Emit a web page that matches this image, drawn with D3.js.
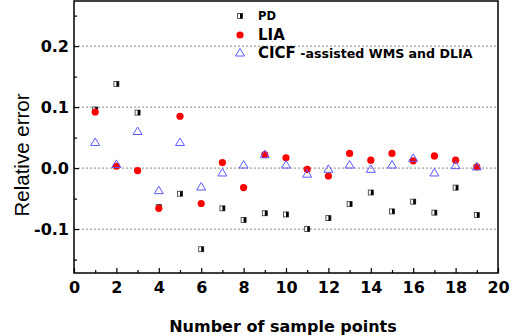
<!DOCTYPE html>
<html>
<head>
<meta charset="utf-8">
<script src="https://cdn.jsdelivr.net/npm/d3@7"></script>
<style>
  body { margin: 0; background: #fff; }
  svg { display: block; font-family: "Liberation Sans", Arial, sans-serif; }
</style>
</head>
<body>
<div id="chart"></div>
<script>
/* Relative error of three methods at 19 sample points */

const samples = d3.range(1, 20); // sample point numbers 1..19
const pd   = [0.096, 0.138, 0.091, -0.064, -0.042, -0.133, -0.066, -0.085, -0.074, -0.076,
              -0.100, -0.082, -0.059, -0.040, -0.071, -0.055, -0.073, -0.032, -0.077];
const lia  = [0.092, 0.003, -0.004, -0.066, 0.085, -0.058, 0.009, -0.032, 0.022, 0.017,
              -0.002, -0.013, 0.024, 0.013, 0.024, 0.012, 0.020, 0.013, 0.002];
const cicf = [0.042, 0.006, 0.060, -0.037, 0.042, -0.031, -0.008, 0.005, 0.022, 0.005,
              -0.010, -0.002, 0.005, -0.002, 0.005, 0.016, -0.008, 0.004, 0.002];
const xTicks = d3.range(0, 21, 2);
const yTicks = [-0.1, 0.0, 0.1, 0.2];
const legendNames = ["PD", "LIA", "CICF"];

const width = 510,
      height = 336,
      margin = { top: 1, right: 12, bottom: 63, left: 74 },
      boldFont = "DejaVu Sans, sans-serif";

const svg = d3.select("#chart")
    .append("svg")
    .attr("width", width)
    .attr("height", height);

let x = d3.scaleLinear()
    .domain([0, 20])
    .range([margin.left, width - margin.right]);

let y = d3.scaleLinear()
    .domain([-0.172, 0.274])
    .range([height - margin.bottom, margin.top]);

const isMajor = d => yTicks.some(t => Math.abs(t - d) < 1e-9);

/* dotted grid lines at the labelled y values */
svg.append("g")
    .selectAll("line")
    .data(yTicks)
    .join("line")
    .attr("x1", x(0))
    .attr("x2", x(20))
    .attr("y1", d => y(d))
    .attr("y2", d => y(d))
    .attr("stroke", "#888")
    .attr("stroke-dasharray", "2,2");

/* frame */
svg.append("rect")
    .attr("x", x(0))
    .attr("y", y(0.274))
    .attr("width", x(20) - x(0))
    .attr("height", y(-0.172) - y(0.274))
    .attr("fill", "none")
    .attr("stroke", "#000")
    .attr("stroke-width", 1.5);

/* x axis: inward ticks, minor at odd numbers */
let xAxis = svg.append("g")
    .attr("transform", `translate(0,${y(-0.172)})`)
    .call(d3.axisBottom(x).tickValues(d3.range(0, 21, 1)).tickSize(-4)
        .tickFormat(d => xTicks.includes(d) ? d : ""));
xAxis.select(".domain").remove();
xAxis.selectAll(".tick line")
    .attr("y2", d => d % 2 === 0 ? -5 : -3)
    .attr("stroke-width", 1.2);
xAxis.selectAll(".tick text")
    .attr("y", 9)
    .style("font-size", "16px")
    .style("font-weight", "bold")
    .style("font-family", boldFont)
    .attr("fill", "#000");

/* y axis: inward ticks, minor every 0.05 */
let yAxis = svg.append("g")
    .attr("transform", `translate(${x(0)},0)`)
    .call(d3.axisLeft(y).tickValues([-0.15, -0.1, -0.05, 0, 0.05, 0.1, 0.15, 0.2, 0.25])
        .tickFormat(d => isMajor(d) ? d.toFixed(1) : "")); // plain hyphen like the original
yAxis.select(".domain").remove();
yAxis.selectAll(".tick line")
    .attr("x2", d => isMajor(d) ? 5 : 3)
    .attr("stroke-width", 1.2);
yAxis.selectAll(".tick text")
    .attr("x", -5)
    .style("font-size", "16px")
    .style("font-weight", "bold")
    .style("font-family", boldFont)
    .attr("fill", "#000");

/* axis titles */
svg.append("text")
    .attr("x", (x(0) + x(20)) / 2 - 3)
    .attr("y", 332)
    .attr("text-anchor", "middle")
    .style("font-size", "16px")
    .style("font-weight", "bold")
    .style("font-family", boldFont)
    .text("Number of sample points");

svg.append("text")
    .attr("transform", `translate(29,155) rotate(-90)`)
    .attr("text-anchor", "middle")
    .style("font-size", "20.5px")
    .text("Relative error");

/* marker drawers */
function square(g, cx, cy) {
    g.append("rect")
        .attr("x", cx - 2.5).attr("y", cy - 2.5)
        .attr("width", 5).attr("height", 5)
        .attr("fill", "#fff").attr("stroke", "#333").attr("stroke-width", 0.8);
    g.append("rect")
        .attr("x", cx).attr("y", cy - 2.5)
        .attr("width", 2.5).attr("height", 5)
        .attr("fill", "#000");
}
function circle(g, cx, cy) {
    g.append("circle")
        .attr("cx", cx).attr("cy", cy).attr("r", 3.6)
        .attr("fill", "#f00");
}
function triangle(g, cx, cy) {
    g.append("path")
        .attr("d", `M${cx},${cy - 4.5}L${cx + 4.5},${cy + 3}L${cx - 4.5},${cy + 3}Z`)
        .attr("fill", "none").attr("stroke", "#5a5aff").attr("stroke-width", 1);
}

let marks = svg.append("g");
samples.forEach((s, i) => square(marks, x(s), y(pd[i])));
samples.forEach((s, i) => circle(marks, x(s), y(lia[i])));
samples.forEach((s, i) => triangle(marks, x(s), y(cicf[i])));

/* legend */
let legend = svg.append("g").style("font-weight", "bold").style("font-family", boldFont);
square(legend, 240, 16);
legend.append("text").attr("x", 258).attr("y", 20).style("font-size", "11.5px").text(legendNames[0]);
circle(legend, 240, 35);
legend.append("text").attr("x", 258).attr("y", 40).style("font-size", "15px").text(legendNames[1]);
triangle(legend, 240, 53);
let t = legend.append("text").attr("x", 258).attr("y", 58).style("font-size", "15px").text(legendNames[2]);
t.append("tspan").style("font-size", "12.6px").text(" -assisted WMS and DLIA");
</script>
</body>
</html>
